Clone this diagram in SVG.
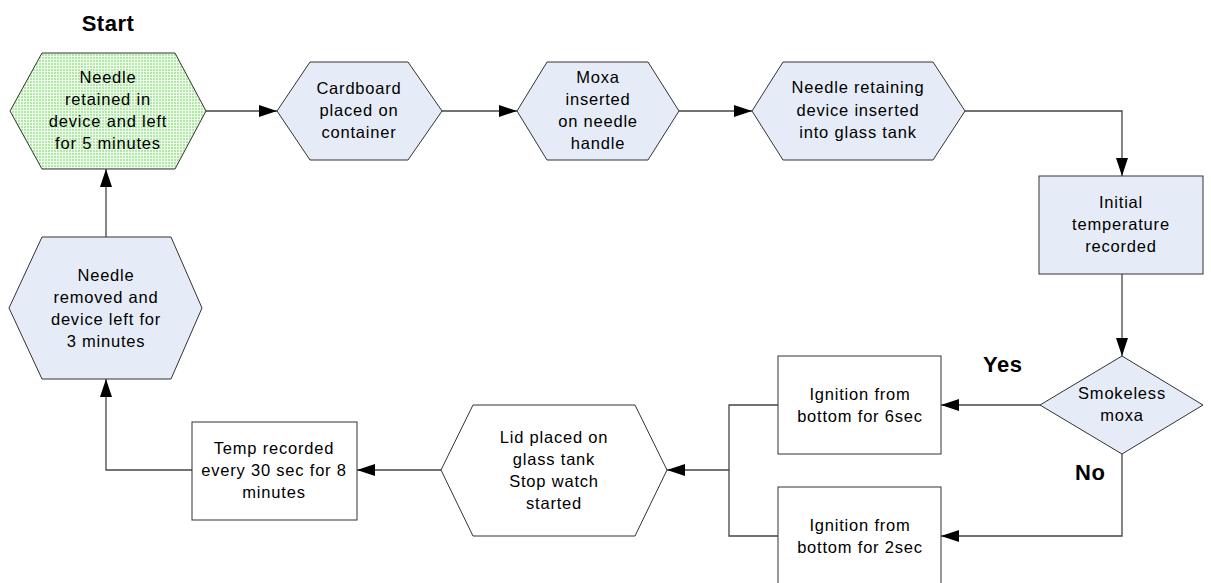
<svg xmlns="http://www.w3.org/2000/svg" width="1211" height="583" viewBox="0 0 1211 583">
<style>
.t{font-family:"Liberation Sans",Arial,sans-serif;font-size:16.5px;letter-spacing:0.8px;fill:#000;text-anchor:middle}
.b{font-family:"Liberation Sans",Arial,sans-serif;font-size:22px;font-weight:bold;letter-spacing:0.5px;fill:#000}
.n{stroke:#333;stroke-width:1;fill:#e6ecf7}
.w{stroke:#333;stroke-width:1;fill:#fff}
.c{stroke:#444;stroke-width:1.3;fill:none}
.a{marker-end:url(#ah)}
</style>
<defs>
<marker id="ah" markerUnits="userSpaceOnUse" markerWidth="18" markerHeight="12" refX="18" refY="6" orient="auto">
<path d="M0,0 L18,6 L0,12 z" fill="#000"/>
</marker>
<pattern id="gp" width="3" height="3" patternUnits="userSpaceOnUse">
<rect width="3" height="3" fill="#eefaeb"/>
<rect width="2" height="2" fill="#b0e8a6"/>
</pattern>
</defs>
<g id="connectors">
<path class="c a" d="M206,111 H277"/>
<path class="c a" d="M442,111 H517"/>
<path class="c a" d="M679,111 H752"/>
<path class="c a" d="M965,111 H1122 V176"/>
<path class="c a" d="M1122,274 V356"/>
<path class="c a" d="M1040,405 H941"/>
<path class="c a" d="M1122,454 V536 H941"/>
<path class="c" d="M778,405 H729 V536 H778"/>
<path class="c a" d="M729,470 H667"/>
<path class="c a" d="M441,470 H357"/>
<path class="c a" d="M192,470 H106 V379"/>
<path class="c a" d="M106,237 V169"/>
</g>
<text class="b" x="108" y="31" text-anchor="middle">Start</text>
<g id="n1">
<polygon points="10,111 42,53 175,53 206,111 175,169 42,169" stroke="#333" stroke-width="1" fill="url(#gp)"/>
<text class="t" x="108" y="82.5">Needle</text>
<text class="t" x="108" y="104.5">retained in</text>
<text class="t" x="108" y="126.5">device and left</text>
<text class="t" x="108" y="148.5">for 5 minutes</text>
</g>
<g id="n2">
<polygon class="n" points="277,111 310,62 408,62 442,111 408,160 310,160"/>
<text class="t" x="359" y="94">Cardboard</text>
<text class="t" x="359" y="116">placed on</text>
<text class="t" x="359" y="138">container</text>
</g>
<g id="n3">
<polygon class="n" points="517,111 547,62 648,62 679,111 648,160 547,160"/>
<text class="t" x="598" y="83">Moxa</text>
<text class="t" x="598" y="105">inserted</text>
<text class="t" x="598" y="127">on needle</text>
<text class="t" x="598" y="149">handle</text>
</g>
<g id="n4">
<polygon class="n" points="752,111 783,62 933,62 965,111 933,160 783,160"/>
<text class="t" x="858" y="93">Needle retaining</text>
<text class="t" x="858" y="116">device inserted</text>
<text class="t" x="858" y="138">into glass tank</text>
</g>
<g id="n5">
<rect class="n" x="1039" y="176" width="164" height="98"/>
<text class="t" x="1121" y="208">Initial</text>
<text class="t" x="1121" y="230">temperature</text>
<text class="t" x="1121" y="252">recorded</text>
</g>
<g id="n6">
<polygon class="n" points="1122,356 1203,405 1122,454 1040,405"/>
<text class="t" x="1122" y="399">Smokeless</text>
<text class="t" x="1122" y="421">moxa</text>
</g>
<text class="b" x="983" y="372">Yes</text>
<text class="b" x="1075" y="480">No</text>
<g id="n7">
<rect class="w" x="778" y="356" width="163" height="98"/>
<text class="t" x="860" y="400">Ignition from</text>
<text class="t" x="860" y="422">bottom for 6sec</text>
</g>
<g id="n8">
<rect class="w" x="778" y="487" width="163" height="110"/>
<text class="t" x="860" y="531">Ignition from</text>
<text class="t" x="860" y="553">bottom for 2sec</text>
</g>
<g id="n9">
<polygon class="w" points="441,470 473,405 635,405 667,470 635,536 473,536"/>
<text class="t" x="554" y="443">Lid placed on</text>
<text class="t" x="554" y="465">glass tank</text>
<text class="t" x="554" y="487">Stop watch</text>
<text class="t" x="554" y="509">started</text>
</g>
<g id="n10">
<rect class="w" x="192" y="422" width="165" height="98"/>
<text class="t" x="274" y="454">Temp recorded</text>
<text class="t" x="274" y="476">every 30 sec for 8</text>
<text class="t" x="274" y="498">minutes</text>
</g>
<g id="n11">
<polygon class="n" points="9,308 42,237 171,237 202,308 171,379 42,379"/>
<text class="t" x="106" y="281">Needle</text>
<text class="t" x="106" y="303">removed and</text>
<text class="t" x="106" y="325">device left for</text>
<text class="t" x="106" y="347">3 minutes</text>
</g>
</svg>
